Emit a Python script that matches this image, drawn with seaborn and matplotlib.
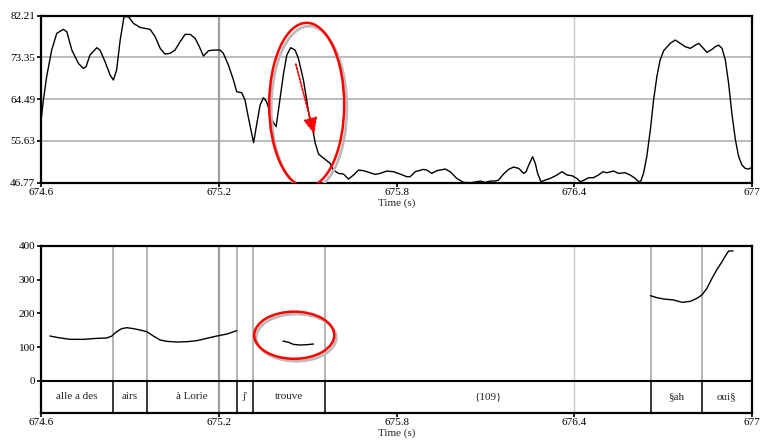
import matplotlib
matplotlib.use("Agg")
import matplotlib.pyplot as plt
from matplotlib.patches import Ellipse
import seaborn as sns
import pandas as pd

# intensity (dB) curve, top panel
int_time = [674.600, 674.609, 674.620, 674.637, 674.654, 674.676, 674.688, 674.705, 674.727, 674.744,
            674.753, 674.766, 674.789, 674.800, 674.817, 674.834, 674.845, 674.856, 674.868, 674.881,
            674.896, 674.913, 674.935, 674.969, 674.986, 675.003, 675.019, 675.036, 675.053, 675.070,
            675.087, 675.104, 675.121, 675.135, 675.149, 675.166, 675.183, 675.205, 675.216, 675.233,
            675.250, 675.261, 675.278, 675.289, 675.301, 675.318, 675.329, 675.340, 675.351, 675.362,
            675.374, 675.383, 675.394, 675.405, 675.419, 675.430, 675.443, 675.458, 675.469, 675.486,
            675.497, 675.509, 675.520, 675.526, 675.537, 675.559, 675.576, 675.587, 675.604, 675.621,
            675.638, 675.655, 675.672, 675.689, 675.711, 675.728, 675.745, 675.767, 675.790, 675.812,
            675.835, 675.846, 675.863, 675.891, 675.902, 675.919, 675.936, 675.964, 675.981, 676.003,
            676.026, 676.049, 676.065, 676.082, 676.099, 676.116, 676.133, 676.144, 676.161, 676.178,
            676.195, 676.212, 676.229, 676.237, 676.246, 676.259, 676.268, 676.276, 676.287, 676.302,
            676.319, 676.341, 676.358, 676.375, 676.392, 676.408, 676.420, 676.433, 676.448, 676.464,
            676.481, 676.496, 676.509, 676.532, 676.549, 676.571, 676.588, 676.605, 676.616, 676.624,
            676.633, 676.644, 676.656, 676.667, 676.678, 676.689, 676.701, 676.723, 676.740, 676.757,
            676.774, 676.791, 676.808, 676.819, 676.830, 676.847, 676.864, 676.875, 676.886, 676.898,
            676.909, 676.920, 676.931, 676.943, 676.954, 676.965, 676.976, 676.987, 676.999]
int_db = [59.36, 64.31, 69.26, 74.92, 78.46, 79.31, 78.81, 74.92, 72.09, 71.03,
          71.39, 73.86, 75.42, 74.92, 72.45, 69.62, 68.56, 70.68, 77.05, 82.00,
          82.00, 80.58, 79.73, 79.31, 77.75, 75.28, 74.07, 74.22, 74.92, 76.69,
          78.25, 78.25, 77.40, 75.63, 73.65, 74.78, 74.92, 74.92, 74.22, 71.74,
          68.56, 66.08, 65.87, 64.31, 60.42, 55.26, 59.36, 63.25, 64.81, 63.96,
          61.48, 59.71, 58.65, 63.60, 69.97, 73.86, 75.42, 74.92, 73.16, 68.56,
          64.31, 59.71, 57.24, 55.12, 52.85, 51.72, 50.87, 49.46, 48.75, 48.61,
          47.55, 48.40, 49.46, 49.32, 48.89, 48.54, 48.75, 49.24, 49.10, 48.61,
          48.04, 48.04, 49.10, 49.60, 49.46, 48.75, 49.32, 49.67, 49.10, 47.69,
          46.84, 46.77, 46.91, 47.12, 46.84, 47.12, 47.12, 47.33, 48.61, 49.60,
          50.09, 49.81, 48.75, 49.10, 50.52, 52.29, 50.87, 48.75, 46.98, 47.33,
          47.69, 48.40, 49.10, 48.40, 48.25, 47.69, 46.98, 47.33, 47.83, 47.83,
          48.40, 49.10, 48.89, 49.24, 48.75, 48.89, 48.40, 47.69, 46.98, 47.12,
          48.75, 52.29, 57.95, 64.31, 69.26, 72.80, 74.78, 76.34, 77.05, 76.34,
          75.63, 75.28, 75.98, 76.34, 75.63, 74.43, 75.07, 75.63, 75.98, 75.28,
          72.80, 67.85, 61.48, 55.82, 52.29, 50.52, 49.81, 49.67, 50.02]

# pitch (Hz) curve, bottom panel, three voiced stretches
f0_time = [674.631, 674.660, 674.699, 674.744, 674.789, 674.823, 674.840, 674.856, 674.873, 674.890,
           674.913, 674.935, 674.958, 674.980, 675.003, 675.025, 675.059, 675.093, 675.126, 675.160,
           675.194, 675.228, 675.261,
           675.417, 675.436, 675.452, 675.475, 675.497, 675.520,
           676.656, 676.678, 676.701, 676.735, 676.763, 676.791, 676.813, 676.830, 676.847, 676.864,
           676.881, 676.898, 676.909, 676.920, 676.935]
f0_hz = [132.7, 127.7, 122.8, 122.8, 125.7, 126.7, 132.7, 145.5, 154.5, 157.4,
         154.5, 150.5, 145.5, 132.7, 120.8, 116.8, 114.9, 115.8, 118.8, 125.7,
         132.7, 138.6, 148.5,
         117.8, 113.9, 107.9, 105.9, 106.9, 108.9,
         252.5, 246.5, 242.6, 239.6, 232.7, 235.6, 244.6, 254.5, 274.3, 304.0,
         330.7, 353.5, 370.3, 385.1, 385.1]
f0_part = [1] * 23 + [2] * 6 + [3] * 15

# transcription tier
seg_bounds = [674.6, 674.845, 674.958, 675.261, 675.317, 675.559, 676.658, 676.829, 677.0]
seg_labels = ["alle a des", "airs", "à Lorie", "j'", "trouve", "{109}", "§ah", "oui§"]

int_ticks = [46.77, 55.63, 64.49, 73.35, 82.21]
f0_ticks = [0, 100, 200, 300, 400]
x_ticks = [674.6, 675.2, 675.8, 676.4, 677]
x_grid = [675.2, 676.4]

sns.set_style("white")
plt.rcParams["font.family"] = ["Liberation Serif", "DejaVu Serif"]
plt.rcParams["font.size"] = 8

fig = plt.figure(figsize=(7.61, 4.44), dpi=100)
ax1 = fig.add_axes([0.0535, 0.5885, 0.9351, 0.3761])
ax2 = fig.add_axes([0.0535, 0.0705, 0.9351, 0.3755])

# --- top: intensity
df_int = pd.DataFrame({"t": int_time, "db": int_db})
for y in int_ticks[1:-1]:
    ax1.axhline(y, color="#b0b0b0", lw=1.2, zorder=0)
ax1.axvline(x_grid[0], color="#a0a0a0", lw=1.6, zorder=0)
ax1.axvline(x_grid[1], color="#c8c8c8", lw=1.0, zorder=0)
sns.lineplot(data=df_int, x="t", y="db", ax=ax1, color="black", lw=1.0, estimator=None, sort=False)
ax1.set_xlim(674.6, 677)
ax1.set_ylim(46.77, 82.21)
ax1.set_yticks(int_ticks)
ax1.set_yticklabels(["%.2f" % v for v in int_ticks])
ax1.set_xticks(x_ticks)
ax1.set_xticklabels([str(v) for v in x_ticks])
ax1.set_xlabel("Time (s)", labelpad=1)
ax1.set_ylabel("")

# circle + arrow on the fall
ax1.add_patch(Ellipse((675.505, 62.6), 0.255, 34.8, fill=False, ec="#bbbbbb", lw=2, zorder=4))
ax1.add_patch(Ellipse((675.497, 63.3), 0.253, 34.8, fill=False, ec="red", lw=1.8, zorder=5))
ax1.annotate("", xy=(675.525, 56.5), xytext=(675.458, 72.5),
             arrowprops=dict(arrowstyle="-|>,head_length=0.8,head_width=0.35", color="red",
                             lw=1.3, ls=(0, (1, 1)), mutation_scale=12), zorder=6)

# --- bottom: pitch + tier
df_f0 = pd.DataFrame({"t": f0_time, "hz": f0_hz, "part": f0_part})
for b in seg_bounds[1:-1]:
    ax2.plot([b, b], [0, 400], color="#a0a0a0", lw=1.1, zorder=0)
    ax2.plot([b, b], [-95, 0], color="black", lw=1.1, zorder=1)
ax2.axvline(x_grid[0], color="#a0a0a0", lw=1.6, zorder=0)
ax2.axvline(x_grid[1], color="#c8c8c8", lw=1.0, zorder=0)
ax2.axhline(0, color="black", lw=1.5, zorder=2)
sns.lineplot(data=df_f0, x="t", y="hz", units="part", estimator=None, ax=ax2,
             color="black", lw=1.0, sort=False)
for i, lab in enumerate(seg_labels):
    ax2.text((seg_bounds[i] + seg_bounds[i + 1]) / 2, -47, lab, ha="center", va="center", fontsize=8)
ax2.set_xlim(674.6, 677)
ax2.set_ylim(-95, 400)
ax2.set_yticks(f0_ticks)
ax2.set_xticks(x_ticks)
ax2.set_xticklabels([str(v) for v in x_ticks])
ax2.set_xlabel("Time (s)", labelpad=1)
ax2.set_ylabel("")

ax2.add_patch(Ellipse((675.462, 128), 0.27, 140, fill=False, ec="#bbbbbb", lw=2, zorder=4))
ax2.add_patch(Ellipse((675.455, 135), 0.27, 140, fill=False, ec="red", lw=1.8, zorder=5))

for ax in (ax1, ax2):
    for s in ax.spines.values():
        s.set_color("black")
        s.set_linewidth(1.6)
    ax.tick_params(axis="both", which="both", direction="out", length=3, width=1.2,
                   colors="black", pad=1, labelsize=8, left=True, bottom=True)

fig.savefig("out.png", dpi=100)
